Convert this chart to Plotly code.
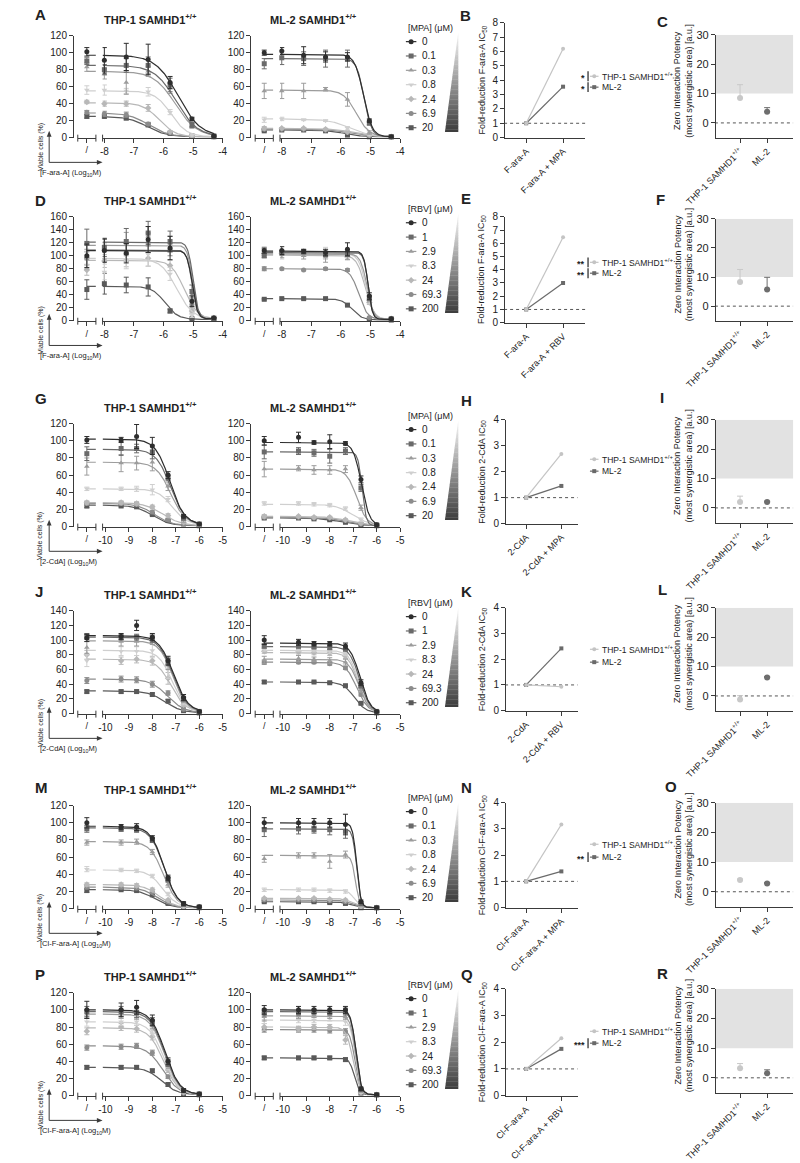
import numpy as np
import plotly.graph_objects as go

W, H = 800, 1163
FONT = "Liberation Sans, Arial, sans-serif"
AX = "#3a3a3a"
TXT = "#222222"

# ---------------- data ----------------
LOG_FARA = [-8.0, -7.26, -6.52, -5.78, -5.04, -4.3]
LOG_NUC = [-9.33, -8.67, -8.0, -7.33, -6.67, -6.0]
MPA_CONC = ["0", "0.1", "0.3", "0.8", "2.4", "6.9", "20"]
RBV_CONC = ["0", "1", "2.9", "8.3", "24", "69.3", "200"]
CONC_COLORS = ["#2e2e2e", "#6a6a6a", "#9c9c9c", "#cfcfcf", "#b8b8b8", "#8c8c8c", "#595959"]
CONC_SYMBOLS = ["circle", "square", "triangle-up", "triangle-down", "diamond", "circle", "square"]

# fit params per concentration: [top, bottom, logIC50, hill]
A_THP_CTRL = [101, 90, 83, 56, 42, 30, 25]
A_THP_MAIN = [[91, 95, 92, 65, 22, 2], [80, 85, 85, 62, 15, 2], [75, 65, 78, 58, 14, 2],
              [56, 55, 54, 30, 3, 1], [40, 40, 35, 7, 2, 1], [28, 27, 16, 6, 2, 1], [25, 23, 15, 5, 2, 1]]
A_THP_ERR = [[5, 15, 16, 18, 7, 2, 1], [4, 6, 8, 10, 8, 3, 1], [5, 6, 14, 6, 6, 3, 1], [5, 6, 3, 5, 3, 1, 1],
             [2, 3, 3, 4, 1, 1, 1], [2, 3, 3, 2, 1, 1, 1], [2, 2, 2, 2, 1, 1, 1]]
A_THP_FIT = [[97, 1, -5.51, 1.15], [85, 1, -5.58, 1.2], [78, 1, -5.6, 1.2], [55, 1, -5.75, 1.6],
             [41, 1, -6.15, 1.6], [29, 1, -6.5, 1.3], [25, 1, -6.55, 1.3]]

A_ML2_CTRL = [100, 87, 55, 21, 11, 10, 8]
A_ML2_MAIN = [[102, 97, 95, 95, 20, 1], [94, 93, 93, 93, 17, 1], [55, 55, 57, 45, 6, 1], [22, 21, 20, 11, 4, 1],
              [11, 11, 10, 7, 3, 1], [10, 10, 9, 6, 2, 1], [9, 9, 8, 3, 1, 1]]
A_ML2_ERR = [[3, 4, 10, 6, 5, 2, 1], [6, 8, 8, 10, 10, 2, 1], [9, 9, 9, 2, 8, 2, 1], [3, 2, 1, 1, 2, 1, 1],
             [2, 1, 1, 1, 1, 1, 1], [1, 1, 1, 1, 1, 1, 1], [1, 1, 1, 1, 1, 1, 1]]
A_ML2_FIT = [[98, 1, -5.24, 3], [93, 1, -5.22, 3.5], [56, 1, -5.48, 2], [22, 1, -5.7, 1.2],
             [11, 1, -5.6, 1.2], [10, 1, -5.7, 1.2], [9, 1, -5.9, 1.5]]

D_THP_CTRL = [100, 119, 95, 97, 78, 96, 48]
D_THP_MAIN = [[108, 104, 125, 112, 30, 4], [113, 122, 135, 122, 45, 4], [110, 118, 130, 118, 40, 5],
              [75, 92, 102, 72, 8, 3], [92, 93, 96, 85, 15, 4], [108, 105, 120, 110, 25, 4], [57, 55, 52, 15, 3, 2]]
D_THP_ERR = [[18, 18, 15, 20, 18, 8, 1], [22, 14, 20, 18, 16, 10, 1], [15, 15, 18, 15, 12, 8, 1],
             [10, 12, 12, 18, 10, 3, 1], [8, 10, 10, 12, 8, 3, 1], [10, 12, 14, 15, 10, 5, 1], [15, 16, 12, 14, 3, 1, 1]]
D_THP_FIT = [[108, 3, -5.03, 5], [121, 3, -5.0, 5], [116, 3, -5.02, 5], [96, 2, -5.55, 1.6],
             [93, 3, -5.3, 2], [109, 3, -5.04, 5], [53, 2, -5.95, 2]]

D_ML2_CTRL = [108, 100, 105, 110, 104, 80, 33]
D_ML2_MAIN = [[108, 107, 105, 110, 38, 3], [105, 106, 103, 104, 35, 3], [102, 100, 98, 100, 33, 3],
              [100, 104, 108, 102, 30, 3], [104, 102, 100, 98, 28, 3], [80, 78, 80, 78, 5, 2], [34, 34, 34, 24, 2, 1]]
D_ML2_ERR = [[4, 6, 3, 5, 10, 5, 1], [3, 4, 3, 4, 5, 4, 1], [5, 5, 5, 8, 6, 4, 1], [4, 5, 5, 5, 5, 4, 1],
             [3, 3, 3, 5, 4, 3, 1], [3, 2, 1, 2, 2, 1, 1], [1, 1, 1, 1, 1, 1, 1]]
D_ML2_FIT = [[107, 2, -5.08, 6], [105, 2, -5.08, 6], [103, 2, -5.12, 4], [103, 2, -5.15, 3.5],
             [101, 2, -5.18, 3], [80, 2, -5.4, 3], [34, 1, -5.62, 2.5]]

G_THP_CTRL = [101, 85, 70, 44, 28, 27, 24]
G_THP_MAIN = [[101, 105, 94, 60, 12, 3], [91, 91, 87, 57, 10, 3], [74, 74, 75, 47, 8, 2], [44, 44, 43, 32, 7, 2],
              [28, 27, 23, 13, 5, 2], [27, 26, 17, 8, 3, 1], [24, 23, 14, 7, 3, 1]]
G_THP_ERR = [[4, 3, 14, 10, 4, 2, 1], [8, 8, 5, 8, 3, 2, 1], [10, 10, 8, 10, 5, 3, 1], [2, 2, 3, 6, 3, 2, 1],
             [2, 2, 2, 2, 2, 1, 1], [2, 2, 2, 2, 1, 1, 1], [2, 1, 1, 1, 1, 1, 1]]
G_THP_FIT = [[102, 2, -7.25, 1.4], [90, 2, -7.22, 1.4], [75, 2, -7.22, 1.4], [44, 2, -7.15, 1.4],
             [28, 1, -7.55, 1.1], [27, 1, -7.9, 1.2], [25, 1, -8.0, 1.2]]

G_ML2_CTRL = [100, 87, 67, 27, 12, 11, 10]
G_ML2_MAIN = [[104, 98, 99, 97, 55, 2], [88, 86, 82, 88, 45, 2], [68, 66, 66, 67, 22, 2], [27, 26, 25, 21, 8, 2],
              [12, 11, 11, 8, 4, 1], [11, 10, 10, 7, 3, 1], [10, 9, 8, 5, 2, 1]]
G_ML2_ERR = [[5, 6, 2, 8, 2, 4, 1], [8, 4, 4, 8, 4, 4, 1], [9, 3, 5, 5, 4, 3, 1], [2, 2, 2, 2, 2, 2, 1],
             [2, 1, 1, 1, 1, 1, 1], [1, 1, 1, 1, 1, 1, 1], [1, 1, 1, 1, 1, 1, 1]]
G_ML2_FIT = [[98, 1, -6.65, 2.5], [87, 1, -6.62, 5], [67, 1, -6.85, 2], [26, 1, -7.0, 1.2],
             [12, 1, -7.2, 1], [11, 1, -7.3, 1], [10, 1, -7.5, 1]]

J_THP_CTRL = [103, 105, 90, 72, 80, 45, 30]
J_THP_MAIN = [[105, 120, 104, 72, 22, 3], [104, 104, 102, 70, 20, 3], [98, 98, 100, 68, 18, 3],
              [85, 85, 86, 60, 15, 3], [72, 74, 72, 48, 12, 2], [47, 46, 40, 28, 6, 2], [30, 30, 26, 17, 4, 1]]
J_THP_ERR = [[5, 4, 7, 5, 6, 4, 1], [4, 4, 4, 5, 5, 3, 1], [8, 6, 6, 6, 8, 3, 1], [8, 6, 6, 10, 12, 3, 1],
             [6, 5, 5, 6, 8, 2, 1], [4, 4, 4, 4, 3, 2, 1], [2, 2, 2, 2, 2, 1, 1]]
J_THP_FIT = [[106, 2, -7.1, 1.4], [104, 2, -7.12, 1.4], [99, 2, -7.12, 1.5], [86, 2, -7.15, 1.5],
             [74, 2, -7.2, 1.4], [47, 1, -7.35, 1.2], [31, 1, -7.45, 1.2]]

J_ML2_CTRL = [100, 92, 73, 88, 85, 70, 43]
J_ML2_MAIN = [[97, 95, 95, 92, 42, 3], [92, 91, 90, 88, 38, 3], [75, 74, 72, 70, 32, 3], [88, 87, 85, 82, 36, 3],
              [84, 83, 82, 78, 33, 2], [70, 70, 68, 62, 26, 2], [43, 43, 42, 38, 14, 1]]
J_ML2_ERR = [[6, 4, 3, 3, 4, 4, 1], [3, 3, 3, 3, 3, 3, 1], [5, 4, 3, 4, 4, 3, 1], [3, 3, 3, 3, 3, 3, 1],
             [3, 3, 3, 3, 3, 3, 1], [3, 2, 2, 2, 2, 2, 1], [2, 1, 1, 1, 1, 1, 1]]
J_ML2_FIT = [[96, 1, -6.7, 2], [91, 1, -6.72, 2], [74, 1, -6.75, 2], [86, 1, -6.75, 2],
             [83, 1, -6.78, 2], [70, 1, -6.85, 1.8], [43, 1, -6.95, 1.8]]

M_THP_CTRL = [100, 93, 77, 46, 28, 25, 21]
M_THP_MAIN = [[95, 95, 82, 36, 6, 2], [93, 92, 80, 34, 5, 2], [77, 78, 66, 28, 4, 2], [45, 44, 38, 17, 3, 1],
              [28, 27, 22, 10, 2, 1], [25, 24, 19, 8, 2, 1], [22, 21, 16, 6, 2, 1]]
M_THP_ERR = [[6, 3, 4, 3, 3, 2, 1], [4, 3, 3, 3, 3, 2, 1], [3, 3, 3, 3, 3, 1, 1], [3, 2, 2, 2, 2, 1, 1],
             [2, 2, 2, 2, 1, 1, 1], [2, 2, 2, 1, 1, 1, 1], [2, 1, 1, 1, 1, 1, 1]]
M_THP_FIT = [[96, 1, -7.5, 1.5], [94, 1, -7.5, 1.5], [78, 1, -7.52, 1.5], [45, 1, -7.55, 1.4],
             [28, 1, -7.7, 1.3], [25, 1, -7.8, 1.3], [22, 1, -7.9, 1.3]]

M_ML2_CTRL = [100, 92, 58, 22, 12, 10, 8]
M_ML2_MAIN = [[100, 100, 100, 98, 8, 1], [93, 92, 92, 90, 6, 1], [62, 62, 55, 63, 4, 1], [22, 22, 21, 20, 3, 1],
              [12, 12, 11, 10, 2, 1], [10, 10, 9, 8, 2, 1], [8, 8, 7, 6, 1, 1]]
M_ML2_ERR = [[6, 5, 5, 5, 12, 2, 1], [8, 6, 4, 6, 8, 2, 1], [4, 3, 3, 8, 4, 2, 1], [2, 2, 2, 2, 2, 1, 1],
             [1, 1, 1, 1, 1, 1, 1], [1, 1, 1, 1, 1, 1, 1], [1, 1, 1, 1, 1, 1, 1]]
M_ML2_FIT = [[100, 1, -6.85, 5], [93, 1, -6.85, 5], [62, 1, -6.9, 5], [22, 1, -6.95, 3],
             [12, 1, -7.0, 2], [10, 1, -7.05, 2], [8, 1, -7.1, 2]]

P_THP_CTRL = [100, 98, 95, 86, 75, 56, 33]
P_THP_MAIN = [[100, 103, 88, 40, 6, 2], [98, 97, 86, 38, 6, 2], [95, 94, 83, 36, 5, 2], [86, 86, 76, 33, 5, 2],
              [80, 78, 69, 30, 4, 2], [57, 58, 50, 22, 3, 1], [33, 33, 29, 13, 2, 1]]
P_THP_ERR = [[10, 8, 8, 6, 4, 2, 1], [6, 6, 6, 5, 4, 2, 1], [5, 5, 5, 5, 4, 2, 1], [5, 4, 4, 4, 3, 1, 1],
             [4, 4, 4, 4, 3, 1, 1], [3, 3, 3, 3, 2, 1, 1], [2, 2, 2, 2, 2, 1, 1]]
P_THP_FIT = [[100, 1, -7.45, 1.4], [98, 1, -7.47, 1.4], [95, 1, -7.48, 1.4], [86, 1, -7.5, 1.4],
             [79, 1, -7.52, 1.4], [58, 1, -7.55, 1.3], [33, 1, -7.6, 1.3]]

P_ML2_CTRL = [100, 97, 92, 88, 80, 77, 44]
P_ML2_MAIN = [[100, 100, 100, 100, 8, 1], [97, 98, 97, 98, 7, 1], [93, 94, 93, 92, 6, 1], [88, 88, 90, 86, 5, 1],
              [78, 80, 80, 65, 4, 1], [77, 77, 76, 75, 5, 1], [44, 44, 44, 42, 3, 1]]
P_ML2_ERR = [[5, 4, 4, 4, 4, 2, 1], [4, 3, 3, 3, 4, 2, 1], [5, 3, 3, 3, 3, 2, 1], [4, 3, 3, 3, 4, 2, 1],
             [4, 3, 3, 3, 5, 2, 1], [3, 3, 3, 3, 3, 2, 1], [2, 2, 2, 2, 2, 1, 1]]
P_ML2_FIT = [[100, 1, -6.88, 4], [98, 1, -6.88, 4], [93, 1, -6.9, 4], [88, 1, -6.9, 4],
             [80, 1, -7.0, 3], [77, 1, -6.92, 4], [44, 1, -6.95, 4]]

FOLD_CATS = [["F-ara-A", "F-ara-A + MPA"], ["F-ara-A", "F-ara-A + RBV"], ["2-CdA", "2-CdA + MPA"],
             ["2-CdA", "2-CdA + RBV"], ["Cl-F-ara-A", "Cl-F-ara-A + MPA"], ["Cl-F-ara-A", "Cl-F-ara-A + RBV"]]
FOLD_THP = [6.2, 6.45, 2.68, 0.93, 3.17, 2.15]
FOLD_ML2 = [3.55, 3.0, 1.45, 2.42, 1.38, 1.75]
FOLD_SIG = [["*", "*"], ["**", "**"], [None, None], [None, None], [None, "**"], [None, "***"]]
ZIP_CATS = ["THP-1 SAMHD1<sup>+/+</sup>", "ML-2"]
ZIP_THP = [8.5, 8.3, 2.0, -1.2, 4.0, 3.2]
ZIP_THP_ERR = [4.5, 4.3, 2.0, 1.3, 0.3, 1.6]
ZIP_ML2 = [3.8, 5.7, 2.0, 6.3, 2.8, 1.5]
ZIP_ML2_ERR = [1.4, 4.2, 0.3, 0.3, 0.3, 1.2]

# ---------------- helpers ----------------
fig = go.Figure()
axes = {}
cnt = {"x": 0, "y": 0}
shapes, annotations = [], []


def add_axis(kind, **kw):
    cnt[kind] += 1
    n = cnt[kind]
    suf = "" if n == 1 else str(n)
    axes[kind + "axis" + suf] = kw
    return kind + suf


def st(**kw):
    d = dict(showgrid=False, zeroline=False, showline=True, linecolor=AX, linewidth=1,
             ticks="outside", ticklen=4, tickwidth=1, tickcolor=AX,
             tickfont=dict(size=10, color=TXT, family=FONT), fixedrange=True)
    d.update(kw)
    return d


def fy(p):
    return 1 - p / H


CX = add_axis("x", domain=[0, 1], range=[0, W], visible=False, fixedrange=True, anchor="y")
CY = add_axis("y", domain=[0, 1], range=[H, 0], visible=False, fixedrange=True, anchor="x")


def ann(x, y, text, size=10, xanchor="center", yanchor="middle", angle=0, color=TXT, bold=False):
    f = dict(size=size, color=color, family=FONT)
    if bold:
        f["weight"] = "bold"
    annotations.append(dict(xref=CX, yref=CY, x=x, y=y, text=text, showarrow=False, font=f,
                            xanchor=xanchor, yanchor=yanchor, textangle=angle))


def seg(x0, y0, x1, y1, color=AX, width=1, dash=None):
    ln = dict(color=color, width=width)
    if dash:
        ln["dash"] = dash
    shapes.append(dict(type="line", xref=CX, yref=CY, x0=x0, y0=y0, x1=x1, y1=y1, line=ln, layer="above"))


def tri(path, color=AX):
    shapes.append(dict(type="path", xref=CX, yref=CY, path=path, fillcolor=color,
                       line=dict(width=0), layer="above"))


def model(xv, p):
    top, bottom, c, h = p
    xv = np.asarray(xv, dtype=float)
    return bottom + (top - bottom) / (1 + 10 ** (h * (xv - c)))


def curve_panel(xa, top, bot, ymax, logs, xr, xt, ctrl, main, err, fit, title, title_x):
    y = add_axis("y", **st(domain=[fy(bot), fy(top)], range=[0, ymax], anchor="free", position=xa / W,
                            tickvals=list(range(0, ymax + 1, 20))))
    xc = add_axis("x", **st(domain=[(xa + 5) / W, (xa + 24) / W], range=[0, 1], anchor=y,
                             tickvals=[0.5], ticktext=["/"], tickfont=dict(size=9, color=TXT, family=FONT)))
    xm = add_axis("x", **st(domain=[(xa + 31) / W, (xa + 157) / W], range=list(xr), anchor=y,
                             tickvals=xt, ticktext=[str(v) for v in xt]))
    for cx in (xa + 5, xa + 24, xa + 31):
        seg(cx, bot - 3, cx, bot + 4)
    ann(title_x, top - 17, title, size=11, bold=True)
    for i in reversed(range(7)):
        col, sym = CONC_COLORS[i], CONC_SYMBOLS[i]
        p = fit[i]
        flat = float(model([xr[0] - 4], p)[0])
        fig.add_trace(go.Scatter(x=[0.5, 1.0], y=[flat, flat], xaxis=xc, yaxis=y, mode="lines",
                                 line=dict(color=col, width=1.2), hoverinfo="skip"))
        xs = np.linspace(xr[0], logs[-1], 160)
        fig.add_trace(go.Scatter(x=xs, y=model(xs, p), xaxis=xm, yaxis=y, mode="lines",
                                 line=dict(color=col, width=1.2), hoverinfo="skip"))
        eb = dict(type="data", color=col, thickness=1, width=2.5, visible=True)
        mk = dict(color=col, symbol=sym, size=5, line=dict(width=0))
        fig.add_trace(go.Scatter(x=[0.5], y=[ctrl[i]], xaxis=xc, yaxis=y, mode="markers", marker=mk,
                                 error_y=dict(eb, array=[err[i][0]]), cliponaxis=False))
        fig.add_trace(go.Scatter(x=logs, y=main[i], xaxis=xm, yaxis=y, mode="markers", marker=mk,
                                 error_y=dict(eb, array=err[i][1:]), cliponaxis=False))


def conc_legend(top, label, concs):
    ann(392, top - 8, label, size=9, xanchor="left")
    ys = []
    for i, c in enumerate(concs):
        yy = top + 6 + 14.5 * i
        ys.append(yy)
        seg(392, yy, 403, yy, color=CONC_COLORS[i], width=1.2)
        ann(407, yy, c, size=10, xanchor="left")
    fig.add_trace(go.Scatter(x=[397.5] * 7, y=ys, xaxis=CX, yaxis=CY, mode="markers",
                             marker=dict(color=CONC_COLORS, symbol=CONC_SYMBOLS, size=5), hoverinfo="skip"))
    t0, t1 = top - 4, top + 97
    n = 40
    for k in range(n):
        ya = t0 + (t1 - t0) * k / n
        yb = t0 + (t1 - t0) * (k + 1) / n
        xl_a = 447 - 14 * (ya - t0) / (t1 - t0)
        xl_b = 447 - 14 * (yb - t0) / (t1 - t0)
        g = int(248 - (248 - 60) * (k + 0.5) / n)
        shapes.append(dict(type="path", xref=CX, yref=CY,
                           path=f"M{xl_a},{ya} L447,{ya} L447,{yb + 0.3} L{xl_b},{yb + 0.3} Z",
                           fillcolor=f"rgb({g},{g},{g})", line=dict(width=0), layer="above"))


def axis_titles(bot, drug):
    cy = bot + 25
    seg(18, cy, 69, cy)
    seg(18, cy, 18, bot - 2)
    tri(f"M15.5,{bot - 1} L18,{bot - 7} L20.5,{bot - 1} Z")
    tri(f"M68,{cy - 2.5} L74,{cy} L68,{cy + 2.5} Z")
    ann(9, bot + 10, "Viable cells (%)", size=7, angle=-90)
    ann(6, bot + 36, "[" + drug + "] (Log<sub>10</sub>M)", size=7.5, xanchor="left")


def fold_panel(r, x0, x1, top, bot, ymax, xr, ytitle, leg_y):
    y = add_axis("y", **st(domain=[fy(bot), fy(top)], range=[0, ymax], anchor="free", position=x0 / W,
                            tickvals=list(range(0, ymax + 1))))
    x = add_axis("x", **st(domain=[x0 / W, x1 / W], range=list(xr), anchor=y, tickvals=[0, 1],
                            ticktext=FOLD_CATS[r], tickangle=-45, tickfont=dict(size=9, color=TXT, family=FONT)))
    shapes.append(dict(type="line", xref=x + " domain", yref=y, x0=0, x1=1, y0=1, y1=1,
                       line=dict(color="#555555", width=1, dash="dot"), layer="below"))
    fig.add_trace(go.Scatter(x=[0, 1], y=[1, FOLD_ML2[r]], xaxis=x, yaxis=y, mode="lines+markers",
                             line=dict(color="#6a6a6a", width=1.2), marker=dict(symbol="square", size=4, color="#6a6a6a"),
                             cliponaxis=False))
    fig.add_trace(go.Scatter(x=[0, 1], y=[1, FOLD_THP[r]], xaxis=x, yaxis=y, mode="lines+markers",
                             line=dict(color="#c4c4c4", width=1.2), marker=dict(symbol="circle", size=4, color="#c4c4c4"),
                             cliponaxis=False))
    ann(472, (top + bot) / 2, ytitle, size=9, angle=-90)
    names = ["THP-1 SAMHD1<sup>+/+</sup>", "ML-2"]
    cols = ["#c4c4c4", "#6a6a6a"]
    syms = ["circle", "square"]
    for k in range(2):
        yy = leg_y[k]
        seg(585, yy, 594, yy, color=cols[k], width=1.2)
        ann(596, yy, names[k], size=8.5, xanchor="left")
        if FOLD_SIG[r][k]:
            ann(581.5, yy + 2, FOLD_SIG[r][k], size=9, xanchor="right", bold=True)
            seg(583, yy - 5, 583, yy + 5, color="#222222", width=1.2)
    fig.add_trace(go.Scatter(x=[589.5, 589.5], y=leg_y, xaxis=CX, yaxis=CY, mode="markers",
                             marker=dict(color=cols, symbol=syms, size=4), hoverinfo="skip"))


def zip_panel(r, top, bot):
    y = add_axis("y", **st(domain=[fy(bot), fy(top)], range=[-5, 30], anchor="free", position=716 / W,
                            tickvals=[0, 10, 20, 30], tickfont=dict(size=11, color=TXT, family=FONT)))
    x = add_axis("x", **st(domain=[716 / W, 798 / W], range=[-0.93, 1.96], anchor=y, tickvals=[0, 1],
                            ticktext=ZIP_CATS, tickangle=-45, tickfont=dict(size=9, color=TXT, family=FONT)))
    shapes.append(dict(type="rect", xref=x + " domain", yref=y, x0=0, x1=1, y0=10, y1=30,
                       fillcolor="#e2e2e2", line=dict(width=0), layer="below"))
    shapes.append(dict(type="line", xref=x + " domain", yref=y, x0=0, x1=1, y0=0, y1=0,
                       line=dict(color="#555555", width=1, dash="dot"), layer="below"))
    for xv, v, e, col in ((0, ZIP_THP[r], ZIP_THP_ERR[r], "#c8c8c8"), (1, ZIP_ML2[r], ZIP_ML2_ERR[r], "#6e6e6e")):
        fig.add_trace(go.Scatter(x=[xv], y=[v], xaxis=x, yaxis=y, mode="markers",
                                 marker=dict(color=col, size=6),
                                 error_y=dict(type="data", symmetric=False, array=[e], arrayminus=[0],
                                              color=col, thickness=1, width=3),
                                 cliponaxis=False))
    ann(683, (top + bot) / 2 - 6, "Zero Interaction Potency<br>(most synergistic area) [a.u.]", size=9, angle=-90)


# ---------------- rows ----------------
ROWS = [
    dict(l=("A", "B", "C"), ly=(9, 10, 16), lx=(1, 447, 653), top=30, bot=133, ymax=120, logs=LOG_FARA,
         xr=(-8.06, -4), xt=[-8, -7, -6, -5, -4], thp=(A_THP_CTRL, A_THP_MAIN, A_THP_ERR, A_THP_FIT),
         ml2=(A_ML2_CTRL, A_ML2_MAIN, A_ML2_ERR, A_ML2_FIT), leg="[MPA] (μM)", conc=MPA_CONC, drug="F-ara-A",
         fold=(495, 580, 17, 133, 8, (-0.6, 1.6)), legy=(71, 82), zip=(29, 133),
         ftitle="Fold-reduction F-ara-A IC<sub>50</sub>"),
    dict(l=("D", "E", "F"), ly=(197, 195, 196), lx=(1, 448, 652), top=213, bot=318, ymax=160, logs=LOG_FARA,
         xr=(-8.06, -4), xt=[-8, -7, -6, -5, -4], thp=(D_THP_CTRL, D_THP_MAIN, D_THP_ERR, D_THP_FIT),
         ml2=(D_ML2_CTRL, D_ML2_MAIN, D_ML2_ERR, D_ML2_FIT), leg="[RBV] (μM)", conc=RBV_CONC, drug="F-ara-A",
         fold=(495, 580, 213, 320, 8, (-0.6, 1.6)), legy=(259, 270), zip=(215, 318),
         ftitle="Fold-reduction F-ara-A IC<sub>50</sub>"),
    dict(l=("G", "H", "I"), ly=(397, 399, 396), lx=(1, 448, 656), top=422, bot=526, ymax=120, logs=LOG_NUC,
         xr=(-10.12, -5), xt=[-10, -9, -8, -7, -6, -5], thp=(G_THP_CTRL, G_THP_MAIN, G_THP_ERR, G_THP_FIT),
         ml2=(G_ML2_CTRL, G_ML2_MAIN, G_ML2_ERR, G_ML2_FIT), leg="[MPA] (μM)", conc=MPA_CONC, drug="2-CdA",
         fold=(496, 572, 418, 523, 4, (-0.6, 1.46)), legy=(458, 470), zip=(418, 522),
         ftitle="Fold-reduction 2-CdA IC<sub>50</sub>"),
    dict(l=("J", "K", "L"), ly=(592, 592, 590), lx=(1, 448, 654), top=611, bot=715, ymax=140, logs=LOG_NUC,
         xr=(-10.12, -5), xt=[-10, -9, -8, -7, -6, -5], thp=(J_THP_CTRL, J_THP_MAIN, J_THP_ERR, J_THP_FIT),
         ml2=(J_ML2_CTRL, J_ML2_MAIN, J_ML2_ERR, J_ML2_FIT), leg="[RBV] (μM)", conc=RBV_CONC, drug="2-CdA",
         fold=(496, 572, 608, 712, 4, (-0.6, 1.46)), legy=(650, 663), zip=(608, 712),
         ftitle="Fold-reduction 2-CdA IC<sub>50</sub>"),
    dict(l=("M", "N", "O"), ly=(790, 790, 789), lx=(1, 448, 662), top=808, bot=912, ymax=120, logs=LOG_NUC,
         xr=(-10.12, -5), xt=[-10, -9, -8, -7, -6, -5], thp=(M_THP_CTRL, M_THP_MAIN, M_THP_ERR, M_THP_FIT),
         ml2=(M_ML2_CTRL, M_ML2_MAIN, M_ML2_ERR, M_ML2_FIT), leg="[MPA] (μM)", conc=MPA_CONC, drug="Cl-F-ara-A",
         fold=(496, 572, 805, 911, 4, (-0.6, 1.46)), legy=(847, 860), zip=(805, 910),
         ftitle="Fold-reduction Cl-F-ara-A IC<sub>50</sub>"),
    dict(l=("P", "Q", "R"), ly=(979, 979, 978), lx=(1, 448, 653), top=997, bot=1101, ymax=120, logs=LOG_NUC,
         xr=(-10.12, -5), xt=[-10, -9, -8, -7, -6, -5], thp=(P_THP_CTRL, P_THP_MAIN, P_THP_ERR, P_THP_FIT),
         ml2=(P_ML2_CTRL, P_ML2_MAIN, P_ML2_ERR, P_ML2_FIT), leg="[RBV] (μM)", conc=RBV_CONC, drug="Cl-F-ara-A",
         fold=(496, 572, 993, 1101, 4, (-0.6, 1.46)), legy=(1036, 1048), zip=(993, 1098),
         ftitle="Fold-reduction Cl-F-ara-A IC<sub>50</sub>"),
]

for r, row in enumerate(ROWS):
    for letter, lx, ly in zip(row["l"], row["lx"], row["ly"]):
        ann(lx, ly, letter, size=15, xanchor="left", bold=True)
    curve_panel(43, row["top"], row["bot"], row["ymax"], row["logs"], row["xr"], row["xt"],
                *row["thp"], "THP-1 SAMHD1<sup>+/+</sup>", 124)
    curve_panel(229, row["top"], row["bot"], row["ymax"], row["logs"], row["xr"], row["xt"],
                *row["ml2"], "ML-2 SAMHD1<sup>+/+</sup>", 295)
    conc_legend(row["top"], row["leg"], row["conc"])
    axis_titles(row["bot"], row["drug"])
    fx0, fx1, ft, fb, fmax, fxr = row["fold"]
    fold_panel(r, fx0, fx1, ft, fb, fmax, fxr, row["ftitle"], list(row["legy"]))
    zip_panel(r, *row["zip"])

fig.update_layout(
    width=W, height=H, margin=dict(l=0, r=0, t=0, b=0),
    paper_bgcolor="white", plot_bgcolor="rgba(0,0,0,0)",
    showlegend=False, font=dict(family=FONT, color=TXT),
    shapes=shapes, annotations=annotations, **axes,
)
fig.write_html("out.html")
